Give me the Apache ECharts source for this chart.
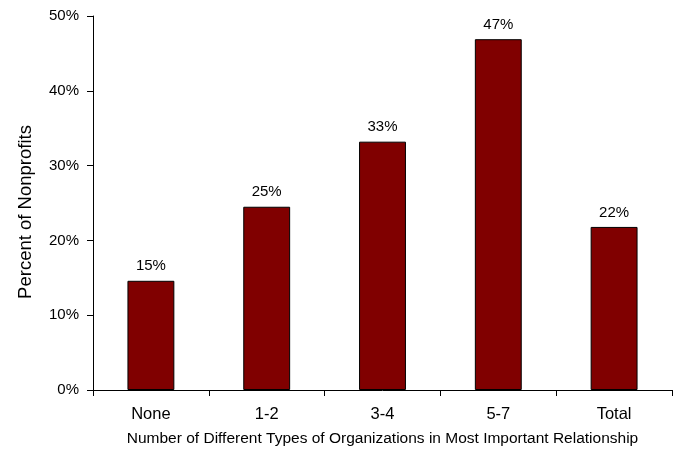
<!DOCTYPE html>
<html>
<head>
<meta charset="utf-8">
<script src="https://cdn.jsdelivr.net/npm/echarts@6/dist/echarts.min.js"></script>
<style>
  html, body { margin: 0; padding: 0; background: #fff; }
  #chart { width: 680px; height: 452px; }
</style>
</head>
<body>
<div id="chart"></div>
<script>
const categories = ['None', '1-2', '3-4', '5-7', 'Total'];
const percentNonprofits = [14.6, 24.5, 33.2, 46.9, 21.8];
const yTicks = [0, 10, 20, 30, 40, 50];

const font = 'Arial, "Liberation Sans", sans-serif';
const chart = echarts.init(document.getElementById('chart'));

chart.setOption({
  animation: false,
  grid: { left: 93, right: 8, top: 16, bottom: 62 },
  xAxis: {
    type: 'category',
    data: categories,
    name: 'Number of Different Types of Organizations in Most Important Relationship',
    nameLocation: 'middle',
    nameGap: 41,
    nameTextStyle: { fontFamily: font, fontSize: 15.5, color: '#000' },
    axisLine: { lineStyle: { color: '#000', width: 1 } },
    axisTick: { show: true, alignWithLabel: false, length: 6, lineStyle: { color: '#000' } },
    axisLabel: { fontFamily: font, fontSize: 16.5, color: '#000', margin: 16 }
  },
  yAxis: {
    type: 'value',
    min: yTicks[0],
    max: yTicks[yTicks.length - 1],
    interval: 10,
    name: 'Percent of Nonprofits',
    nameLocation: 'middle',
    nameGap: 58,
    // extra right padding nudges the rotated title a little lower
    nameTextStyle: { fontFamily: font, fontSize: 18.5, color: '#000', padding: [0, 18, 0, 0] },
    axisLine: { show: true, lineStyle: { color: '#000', width: 1 } },
    axisTick: { show: true, length: 6, lineStyle: { color: '#000' } },
    axisLabel: { fontFamily: font, fontSize: 15, color: '#000', margin: 14, formatter: v => v + '%' },
    splitLine: { show: false }
  },
  series: [{
    type: 'bar',
    data: percentNonprofits,
    barWidth: '40.5%',
    itemStyle: { color: '#800000', borderColor: '#000', borderWidth: 1 },
    label: {
      show: true,
      position: 'top',
      distance: 7,
      fontFamily: font,
      fontSize: 15,
      color: '#000',
      formatter: p => Math.round(p.value) + '%'
    }
  }]
});
</script>
</body>
</html>
